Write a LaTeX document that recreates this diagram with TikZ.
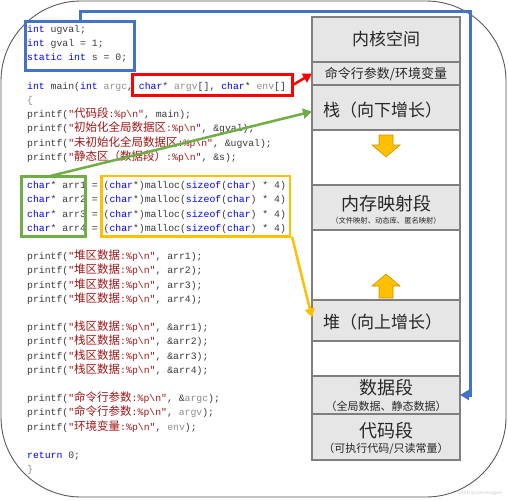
\documentclass[tikz,border=0pt]{standalone}
\usepackage{fontspec}
\setmonofont{Liberation Mono}
\newfontfamily\cjk{Noto Sans CJK SC}
\usetikzlibrary{arrows.meta}

\definecolor{kwblue}{HTML}{0000FF}
\definecolor{strred}{HTML}{A31515}
\definecolor{prmgray}{HTML}{8C8C8C}
\definecolor{codetext}{HTML}{3A3A3A}
\definecolor{memtext}{HTML}{262626}
\definecolor{frameblue}{HTML}{4472C4}
\definecolor{framered}{HTML}{FF0000}
\definecolor{framegreen}{HTML}{70AD47}
\definecolor{frameorange}{HTML}{FFC000}
\definecolor{rowfill}{HTML}{E7E6E6}
\definecolor{rowline}{HTML}{7F7F7F}
\definecolor{growfill}{HTML}{FFC000}
\definecolor{growline}{HTML}{C89600}
\definecolor{outline}{HTML}{595959}

\newcommand{\kw}[1]{\textcolor{kwblue}{#1}}
\newcommand{\prm}[1]{\textcolor{prmgray}{#1}}
\newcommand{\zh}[1]{{\cjk\fontsize{11.5}{14}\selectfont #1}}
\newcommand{\cstr}[1]{\textcolor{strred}{"#1"}}
\newcommand{\fmt}{:\%p\textbackslash n}

\begin{document}
\begin{tikzpicture}[x=1pt, y=-1pt,
	codeline/.style={anchor=base west, inner sep=0pt, text=codetext, font=\ttfamily\fontsize{9.8}{14.2}\selectfont},
	memrow/.style={draw=rowline, line width=1.2pt, minimum width=148pt, anchor=north west, outer sep=0pt, inner sep=0pt},
	memlabel/.style={inner sep=0pt, text=memtext},
	hlbox/.style={line width=3pt, anchor=north west, outer sep=0pt, inner sep=0pt},
	hlarrow/.style={line width=2.5pt, -{Triangle[length=9pt, width=10pt]}},
	growarrow/.style={fill=growfill, draw=growline, line width=0.6pt}]
	\useasboundingbox (0,0) rectangle (508,500);
	\draw[outline, line width=0.9pt, rounded corners=80pt] (1,1) rectangle (506,497);
	% source code
	\foreach \idx/\src in {0/{\kw{int} ugval;}, 1/{\kw{int} gval = 1;}, 2/{\kw{static} \kw{int} s = 0;},
		4/{\kw{int} main(\kw{int} \prm{argc}, \kw{char}* \prm{argv}[], \kw{char}* \prm{env}[]}, 5/{\prm{\{}},
		6/{printf(\cstr{\zh{代码段}\fmt}, main);}, 7/{printf(\cstr{\zh{初始化全局数据区}\fmt}, \&gval);},
		8/{printf(\cstr{\zh{未初始化全局数据区}\fmt}, \&ugval);}, 9/{printf(\cstr{\zh{静态区（数据段）}\fmt}, \&s);},
		26/{printf(\cstr{\zh{命令行参数}\fmt}, \&\prm{argc});}, 27/{printf(\cstr{\zh{命令行参数}\fmt}, \prm{argv});},
		28/{printf(\cstr{\zh{环境变量}\fmt}, \prm{env});}, 30/{\kw{return} 0;}, 31/{\prm{\}}}}
		\node[codeline] (code\idx) at (27,{32.5+14.2*\idx}) {\src};
	\foreach \k in {1,...,4} {
		\node[codeline] (malloc\k) at (27,{32.5+14.2*(10+\k)}) {\kw{char}* arr\k{} = (\kw{char}*)malloc(\kw{sizeof}(\kw{char}) * 4)};
		\node[codeline] (heapout\k) at (27,{32.5+14.2*(15+\k)}) {printf(\cstr{\zh{堆区数据}\fmt}, arr\k);};
		\node[codeline] (stackout\k) at (27,{32.5+14.2*(20+\k)}) {printf(\cstr{\zh{栈区数据}\fmt}, \&arr\k);};
	}
	% memory layout
	\foreach \name/\ytop/\ybot/\rowcol in {kern/17/62/rowfill, cmd/62/85/rowfill, stk/85/130/rowfill, gapa/130/185/white,
		mmap/185/230/rowfill, gapb/230/300/white, heap/300/341/rowfill, gapc/341/376/white, data/376/414/rowfill, text/414/460/rowfill}
		\node[memrow, fill=\rowcol, minimum height={\ybot-\ytop}] (\name) at (312,\ytop) {};
	\node[memlabel, font=\cjk\fontsize{17}{17}\selectfont] (kernlabel) at (kern) {内核空间};
	\node[memlabel, font=\cjk\fontsize{13}{13}\selectfont] (cmdlabel) at ([yshift=-1pt]cmd.center) {命令行参数/环境变量};
	\node[memlabel, anchor=west, font=\cjk\fontsize{17}{17}\selectfont] (stklabel) at (323,110) {栈（向下增长）};
	\node[memlabel, font=\cjk\fontsize{18}{18}\selectfont] (mmaplabel) at (386,204) {内存映射段};
	\node[memlabel, font=\cjk\fontsize{7.3}{7.3}\selectfont] (mmapnote) at (386,220.5) {（文件映射、动态库、匿名映射）};
	\node[memlabel, anchor=west, font=\cjk\fontsize{17}{17}\selectfont] (heaplabel) at (323,322) {堆（向上增长）};
	\node[memlabel, font=\cjk\fontsize{18}{18}\selectfont] (datalabel) at (386,388) {数据段};
	\node[memlabel, font=\cjk\fontsize{11}{11}\selectfont] (datanote) at (386,406) {（全局数据、静态数据）};
	\node[memlabel, font=\cjk\fontsize{18}{18}\selectfont] (textlabel) at (386,431) {代码段};
	\node[memlabel, font=\cjk\fontsize{11}{11}\selectfont] (textnote) at (386,449) {（可执行代码/只读常量）};
	\filldraw[growarrow] (379,135) -- (393,135) -- (393,145) -- (400,145) -- (386,157) -- (372,145) -- (379,145) -- cycle;
	\filldraw[growarrow] (379,298) -- (393,298) -- (393,286) -- (400,286) -- (386,274) -- (372,286) -- (379,286) -- cycle;
	% highlight boxes
	\node[hlbox, draw=frameblue, minimum width=108.6pt, minimum height=49.3pt] (globbox) at (25.7,21.7) {};
	\node[hlbox, draw=framered, minimum width=160pt, minimum height=21pt] (argbox) at (132,75) {};
	\node[hlbox, draw=framegreen, minimum width=63.3pt, minimum height=60.7pt] (arrbox) at (21.7,176) {};
	\node[hlbox, draw=frameorange, line width=2.6pt, minimum width=188.5pt, minimum height=60.7pt] (mallocbox) at (101.5,176) {};
	% links into the layout
	\coordinate (bluetop) at (470,12);
	\draw[hlarrow, frameblue, line width=3pt] (globbox.north) |- (bluetop) |- (data.east);
	\draw[hlarrow, framered] (argbox.east) -- (cmd.west);
	\draw[hlarrow, framegreen] ([xshift=-3pt]arrbox.north) -- ([yshift=-4pt]stk.west);
	\draw[hlarrow, frameorange] ([xshift=2pt]mallocbox.south east) -- ([yshift=3pt]heap.west);
	\node[text=gray!45, inner sep=0pt, font=\cjk\fontsize{4.5}{4.5}\selectfont] (mark) at (480,493) {CSDN @Jammingpro};
\end{tikzpicture}
\end{document}
